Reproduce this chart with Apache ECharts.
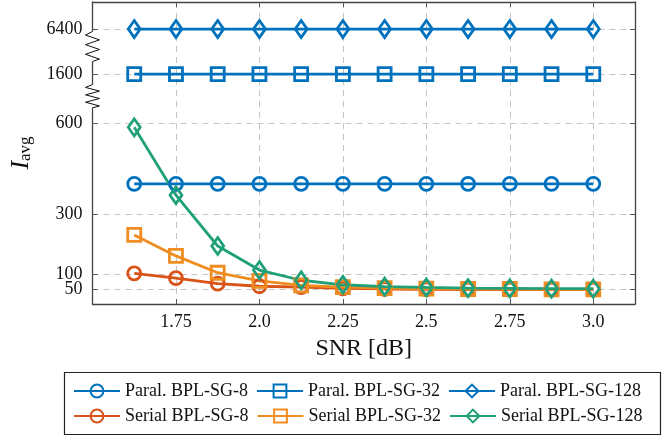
<!DOCTYPE html>
<html><head><meta charset="utf-8">
<script src="https://cdn.jsdelivr.net/npm/echarts@6/dist/echarts.min.js"></script>
<style>html,body{margin:0;padding:0;background:#fff}#c{width:672px;height:436px}</style>
</head><body><div id="c"></div>
<script>
// ---- data ----
const snr = [1.625, 1.75, 1.875, 2.0, 2.125, 2.25, 2.375, 2.5, 2.625, 2.75, 2.875, 3.0];
const paral8 = [400, 400, 400, 400, 400, 400, 400, 400, 400, 400, 400, 400];
const paral32 = [1600, 1600, 1600, 1600, 1600, 1600, 1600, 1600, 1600, 1600, 1600, 1600];
const paral128 = [6400, 6400, 6400, 6400, 6400, 6400, 6400, 6400, 6400, 6400, 6400, 6400];
const serial8 = [102, 86, 68, 59, 56, 52, 50, 49, 48, 48, 48, 48];
const serial32 = [230, 160, 104, 77, 62, 56, 53, 51, 50, 50, 49, 49];
const serial128 = [588, 362, 193, 113, 79, 64, 58, 55, 53, 52, 51, 51];
const seriesNames = ['Paral. BPL-SG-8', 'Paral. BPL-SG-32', 'Paral. BPL-SG-128', 'Serial BPL-SG-8', 'Serial BPL-SG-32', 'Serial BPL-SG-128'];
const xTickValues = [1.75, 2.0, 2.25, 2.5, 2.75, 3.0];
const xTickLabels = ['1.75', '2.0', '2.25', '2.5', '2.75', '3.0'];
const yTickValues = [50, 100, 300, 600, 1600, 6400];
const yTickLabels = ['50', '100', '300', '600', '1600', '6400'];

// broken axis: linear up to 700, then compressed segments
function yMap(v) {
  if (v <= 700) return v;
  if (v <= 1600) return 700 + (v - 700) * (65 / 900);
  return 765 + (v - 1600) * (150 / 4800);
}

const BLUE = '#0072BD', RED = '#D95319', ORANGE = '#EF8D22', GREEN = '#1FA078';
const FONT = 'Liberation Serif';

function mk(name, data, color, symbol, size) {
  return {
    name: name, type: 'line', data: snr.map((x, i) => [x, yMap(data[i])]),
    symbol: symbol, symbolSize: size, showSymbol: true,
    lineStyle: { color: color, width: 2.8 },
    itemStyle: { color: 'rgba(255,255,255,0)', borderColor: color, borderWidth: 2.8 },
    emphasis: { disabled: true }, animation: false
  };
}

const chart = echarts.init(document.getElementById('c'), null, { renderer: 'canvas' });
const axisLineStyle = { color: '#444', width: 1.3 };
const tickStyle = { color: '#555', width: 1 };
const yCustom = yTickValues.map(yMap);
const yCustomA = yCustom.slice(1);   // labels 100..6400 on the main axis
const yCustomB = yCustom.slice(0, 1); // label 50 on an overlaid axis (avoids overlap hiding)
const yFmt = v => { const i = yCustom.findIndex(t => Math.abs(t - v) < 1e-6); return i >= 0 ? yTickLabels[i] : ''; };

chart.setOption({
  animation: false,
  grid: { left: 91, right: 37, top: 2, bottom: 132, containLabel: false },
  xAxis: [{
    type: 'value', min: 1.5, max: 3.125, position: 'bottom',
    axisLine: { show: true, lineStyle: axisLineStyle, onZero: false },
    axisTick: { show: true, inside: true, length: 5, lineStyle: tickStyle, customValues: xTickValues },
    axisLabel: { show: true, customValues: xTickValues, margin: 9, fontFamily: FONT, fontSize: 18, color: '#111', hideOverlap: false,
      formatter: v => { const i = xTickValues.findIndex(t => Math.abs(t - v) < 1e-6); return i >= 0 ? xTickLabels[i] : ''; } },
    splitLine: { show: true, lineStyle: { color: '#c4c4c4', type: [6, 5], width: 1 } },
    name: 'SNR [dB]', nameLocation: 'middle', nameGap: 33,
    nameTextStyle: { fontFamily: FONT, fontSize: 24, color: '#111' }
  }, {
    type: 'value', min: 1.5, max: 3.125, position: 'top',
    axisLine: { show: true, lineStyle: axisLineStyle, onZero: false },
    axisTick: { show: true, inside: true, length: 5, lineStyle: tickStyle, customValues: xTickValues },
    axisLabel: { show: false }, splitLine: { show: false }
  }],
  yAxis: [{
    type: 'value', min: 0, max: 1005, position: 'left',
    axisLine: { show: true, lineStyle: axisLineStyle, onZero: false },
    axisTick: { show: true, inside: true, length: 5, lineStyle: tickStyle, customValues: yCustom },
    axisLabel: { show: true, customValues: yCustomA, margin: 10, fontFamily: FONT, fontSize: 18, color: '#111',
      hideOverlap: false, formatter: yFmt },
    splitLine: { show: true, lineStyle: { color: '#c4c4c4', type: [6, 5], width: 1 } },
    name: '{i|I}{s|avg}', nameLocation: 'middle', nameGap: 58, nameRotate: 90,
    nameTextStyle: { color: '#111', rich: {
      i: { fontFamily: FONT, fontStyle: 'italic', fontSize: 26, color: '#111' },
      s: { fontFamily: FONT, fontSize: 17, color: '#111', padding: [10, 0, 0, 0] }
    } }
  }, {
    type: 'value', min: 0, max: 1005, position: 'right',
    axisLine: { show: true, lineStyle: axisLineStyle, onZero: false },
    axisTick: { show: true, inside: true, length: 5, lineStyle: tickStyle, customValues: yCustom },
    axisLabel: { show: false }, splitLine: { show: false }
  }, {
    type: 'value', min: 0, max: 1005, position: 'left',
    axisLine: { show: false }, axisTick: { show: false }, splitLine: { show: false },
    axisLabel: { show: true, customValues: yCustomB, margin: 10, fontFamily: FONT, fontSize: 18, color: '#111',
      hideOverlap: false, formatter: yFmt }
  }],
  legend: [{
    data: seriesNames.slice(0, 3), left: 73, top: 382, orient: 'horizontal', padding: 0,
    itemWidth: 46, itemHeight: 16, itemGap: 8,
    textStyle: { fontFamily: FONT, fontSize: 18, color: '#111' }
  }, {
    data: seriesNames.slice(3), left: 73, top: 407, orient: 'horizontal', padding: 0,
    itemWidth: 46, itemHeight: 16, itemGap: 8,
    textStyle: { fontFamily: FONT, fontSize: 18, color: '#111' }
  }],
  series: [
    mk(seriesNames[0], paral8, BLUE, 'circle', 13),
    mk(seriesNames[1], paral32, BLUE, 'rect', 13),
    mk(seriesNames[2], paral128, BLUE, 'diamond', [12, 17]),
    mk(seriesNames[3], serial8, RED, 'circle', 13),
    mk(seriesNames[4], serial32, ORANGE, 'rect', 13),
    mk(seriesNames[5], serial128, GREEN, 'diamond', [12, 17])
  ]
});

// axis-break zigzags and legend frame
const breaks = [[653, 730], [807, 907]];
const ax = chart.convertToPixel({ xAxisIndex: 0 }, 1.5);
const els = [];
breaks.forEach(b => {
  const y0 = chart.convertToPixel({ yAxisIndex: 0 }, b[0]);
  const y1 = chart.convertToPixel({ yAxisIndex: 0 }, b[1]);
  els.push({ type: 'rect', shape: { x: ax - 3, y: y1, width: 6, height: y0 - y1 }, style: { fill: '#fff' }, z: 100 });
  const offs = [0, 7, -7, 7, -7, 7, -7, 0];
  const ts = [0, 0.08, 0.24, 0.4, 0.56, 0.72, 0.88, 1];
  const pts = ts.map((t, i) => [ax + offs[i], y0 + (y1 - y0) * t]);
  els.push({ type: 'polyline', shape: { points: pts }, style: { stroke: '#111', lineWidth: 1, fill: null }, z: 101 });
});
els.push({ type: 'rect', shape: { x: 64.5, y: 372.5, width: 596, height: 62 }, style: { stroke: '#222', lineWidth: 1.2, fill: null }, z: 1 });
chart.setOption({ graphic: els });
</script>
</body></html>
